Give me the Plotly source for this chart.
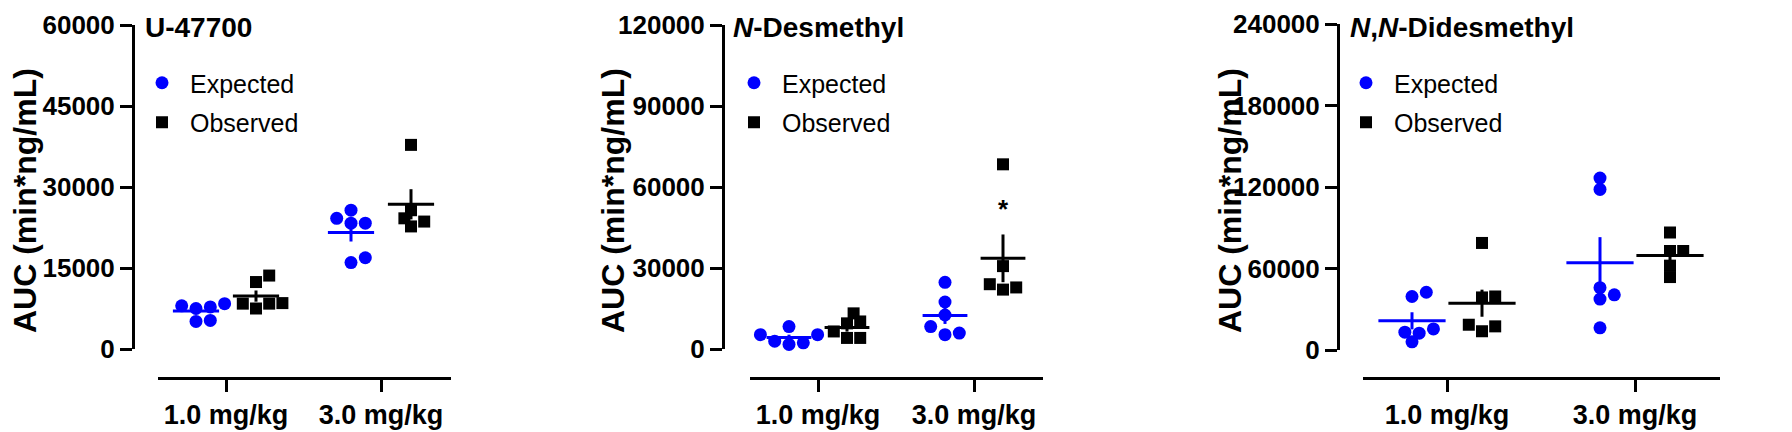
import plotly.graph_objects as go
import numpy as np

# ---------------- data ----------------
panel_titles = ["<b>U-47700</b>", "<b><i>N</i>-Desmethyl</b>", "<b><i>N</i>,<i>N</i>-Didesmethyl</b>"]
dose_labels = ["1.0 mg/kg", "3.0 mg/kg"]
y_title = "<b>AUC (min*ng/mL)</b>"
y_max = [60000, 120000, 240000]
y_dtick = [15000, 30000, 60000]

# U-47700
u_expected_1 = [7800, 8000, 8400, 7500, 5100, 5300]
u_observed_1 = [13600, 12400, 7500, 8400, 8500, 8400]
u_expected_3 = [23300, 24200, 25700, 23300, 16000, 16900]
u_observed_3 = [37800, 25700, 22700, 24200, 23600]

# N-Desmethyl
d_expected_1 = [8300, 5300, 5300, 2300, 2900, 1700]
d_observed_1 = [13200, 9500, 10200, 6500, 4100, 4100]
d_expected_3 = [24700, 17400, 12600, 8300, 5300, 5900]
d_observed_3 = [68400, 30700, 22000, 24000, 22800]

# N,N-Didesmethyl
dd_expected_1 = [39400, 42500, 15500, 12400, 13100, 6000]
dd_observed_1 = [78800, 39400, 38700, 13800, 18600, 17400]
dd_expected_3 = [126600, 118200, 45900, 37500, 40600, 16300]
dd_observed_3 = [86500, 72900, 72900, 62100, 53700]

expected = [[u_expected_1, u_expected_3], [d_expected_1, d_expected_3], [dd_expected_1, dd_expected_3]]
observed = [[u_observed_1, u_observed_3], [d_observed_1, d_observed_3], [dd_observed_1, dd_observed_3]]

# significance marks: (panel, dose index, series, y value)
sig_marks = [(1, 1, "Observed", 52000)]

# ---------------- layout geometry (pixels) ----------------
W, H = 1792, 432
geo = [
    dict(ax=125, x0=150, x1=443, t0=218, t1=373, ytop=17, ybot=341, xline=370,
         lab=17, tx=135, lx=126, goff=30, mw=33),
    dict(ax=715, x0=742, x1=1035, t0=810, t1=966, ytop=17, ybot=341, xline=370,
         lab=605, tx=723, lx=718, goff=29, mw=32),
    dict(ax=1330, x0=1355, x1=1712, t0=1439, t1=1627, ytop=16, ybot=342, xline=370,
         lab=1222, tx=1340, lx=1330, goff=35, mw=48),
]
BLUE = "#0000ff"
BLACK = "#000000"
FONT = "Liberation Sans, Arial, sans-serif"
DOT = 13
SQ = 12


def swarm(vals, px_per_unit, d):
    """simple deterministic beeswarm: pixel x-offsets for each value"""
    order = sorted(range(len(vals)), key=lambda i: vals[i])
    placed, offs = [], [0.0] * len(vals)
    step = d * 0.55
    cands = [0.0]
    for j in range(1, 12):
        cands += [j * step, -j * step]
    for i in order:
        y = vals[i] * px_per_unit
        for c in cands:
            if all((c - px) ** 2 + (y - py) ** 2 >= (0.85 * d) ** 2 for px, py in placed):
                break
        placed.append((c, y))
        offs[i] = c
    return offs


fig = go.Figure()
layout = dict(
    width=W, height=H, margin=dict(l=0, r=0, t=0, b=0, autoexpand=False),
    paper_bgcolor="white", plot_bgcolor="white", showlegend=True,
    annotations=[],
)

for p in range(3):
    g = geo[p]
    xs = "" if p == 0 else str(p + 1)
    xname, yname = "x" + xs, "y" + xs
    px_per_cat = g["t1"] - g["t0"]
    x_range = [-(g["t0"] - g["x0"]) / px_per_cat, 1 + (g["x1"] - g["t1"]) / px_per_cat]
    px_per_unit = (g["ybot"] - g["ytop"]) / y_max[p]
    off = g["goff"] / px_per_cat
    legend_name = "legend" if p == 0 else "legend" + str(p + 1)

    for series, data, color, sym, size in [
        ("Expected", expected[p], BLUE, "circle", DOT),
        ("Observed", observed[p], BLACK, "square", SQ),
    ]:
        sgn = -1 if series == "Expected" else 1
        xs_all, ys_all, mx, my, me = [], [], [], [], []
        for k, vals in enumerate(data):
            sw = swarm(vals, px_per_unit, size)
            for v, o in zip(vals, sw):
                xs_all.append(k + sgn * off + o / px_per_cat)
                ys_all.append(v)
            arr = np.array(vals, dtype=float)
            mx.append(k + sgn * off)
            my.append(arr.mean())
            me.append(arr.std(ddof=1) / np.sqrt(len(arr)))
        fig.add_trace(go.Scatter(
            x=xs_all, y=ys_all, mode="markers", name=series,
            marker=dict(symbol=sym, size=size, color=color, line=dict(width=0)),
            xaxis=xname, yaxis=yname, legend=legend_name, showlegend=True,
            legendgroup=series, cliponaxis=False,
        ))
        fig.add_trace(go.Scatter(
            x=mx, y=my, mode="markers", showlegend=False,
            marker=dict(symbol="line-ew", size=g["mw"], color=color,
                        line=dict(width=3, color=color)),
            error_y=dict(type="data", array=me, visible=True, thickness=3, width=0, color=color),
            xaxis=xname, yaxis=yname, cliponaxis=False,
        ))

    layout["xaxis" + xs] = dict(
        domain=[g["x0"] / W, g["x1"] / W], range=x_range, anchor="free",
        position=(H - g["xline"]) / H, showline=True, linewidth=3, linecolor=BLACK,
        ticks="outside", ticklen=12, tickwidth=3, tickcolor=BLACK, automargin=False,
        tickvals=[0, 1], ticktext=dose_labels, showgrid=False, zeroline=False,
        ticklabeloverflow="allow",
        tickfont=dict(family=FONT, size=27, color=BLACK, weight="bold"),
    )
    layout["yaxis" + xs] = dict(
        domain=[(H - g["ybot"]) / H, (H - g["ytop"]) / H], range=[0, y_max[p]],
        anchor="free", position=g["ax"] / W, showline=True, linewidth=3, linecolor=BLACK,
        ticks="outside", ticklen=12, tickwidth=3, tickcolor=BLACK, automargin=False,
        dtick=y_dtick[p], tick0=0, tickformat="d", showgrid=False, zeroline=False,
        ticklabeloverflow="allow",
        tickfont=dict(family=FONT, size=26, color=BLACK, weight="bold"),
    )
    layout[legend_name] = dict(
        x=g["lx"] / W, y=(H - 52) / H, xanchor="left", yanchor="top",
        bgcolor="rgba(0,0,0,0)", font=dict(family=FONT, size=25, color=BLACK),
        itemsizing="trace", itemwidth=46, tracegroupgap=4,
    )
    layout["annotations"].append(dict(
        text=panel_titles[p], x=g["tx"] / W, y=(H - 20) / H, xref="paper", yref="paper",
        xanchor="left", yanchor="middle", showarrow=False,
        font=dict(family=FONT, size=28, color=BLACK),
    ))
    layout["annotations"].append(dict(
        text=y_title, x=g["lab"] / W, y=(H - 193) / H, xref="paper", yref="paper",
        xanchor="center", yanchor="middle", textangle=-90, showarrow=False,
        font=dict(family=FONT, size=32, color=BLACK),
    ))

for (p, k, series, yv) in sig_marks:
    g = geo[p]
    xs = "" if p == 0 else str(p + 1)
    px_per_cat = g["t1"] - g["t0"]
    sgn = -1 if series == "Expected" else 1
    layout["annotations"].append(dict(
        text="<b>*</b>", x=k + sgn * g["goff"] / px_per_cat, y=yv,
        xref="x" + xs, yref="y" + xs, showarrow=False,
        font=dict(family=FONT, size=26, color=BLACK),
    ))

fig.update_layout(**layout)
fig.write_html("out.html")
